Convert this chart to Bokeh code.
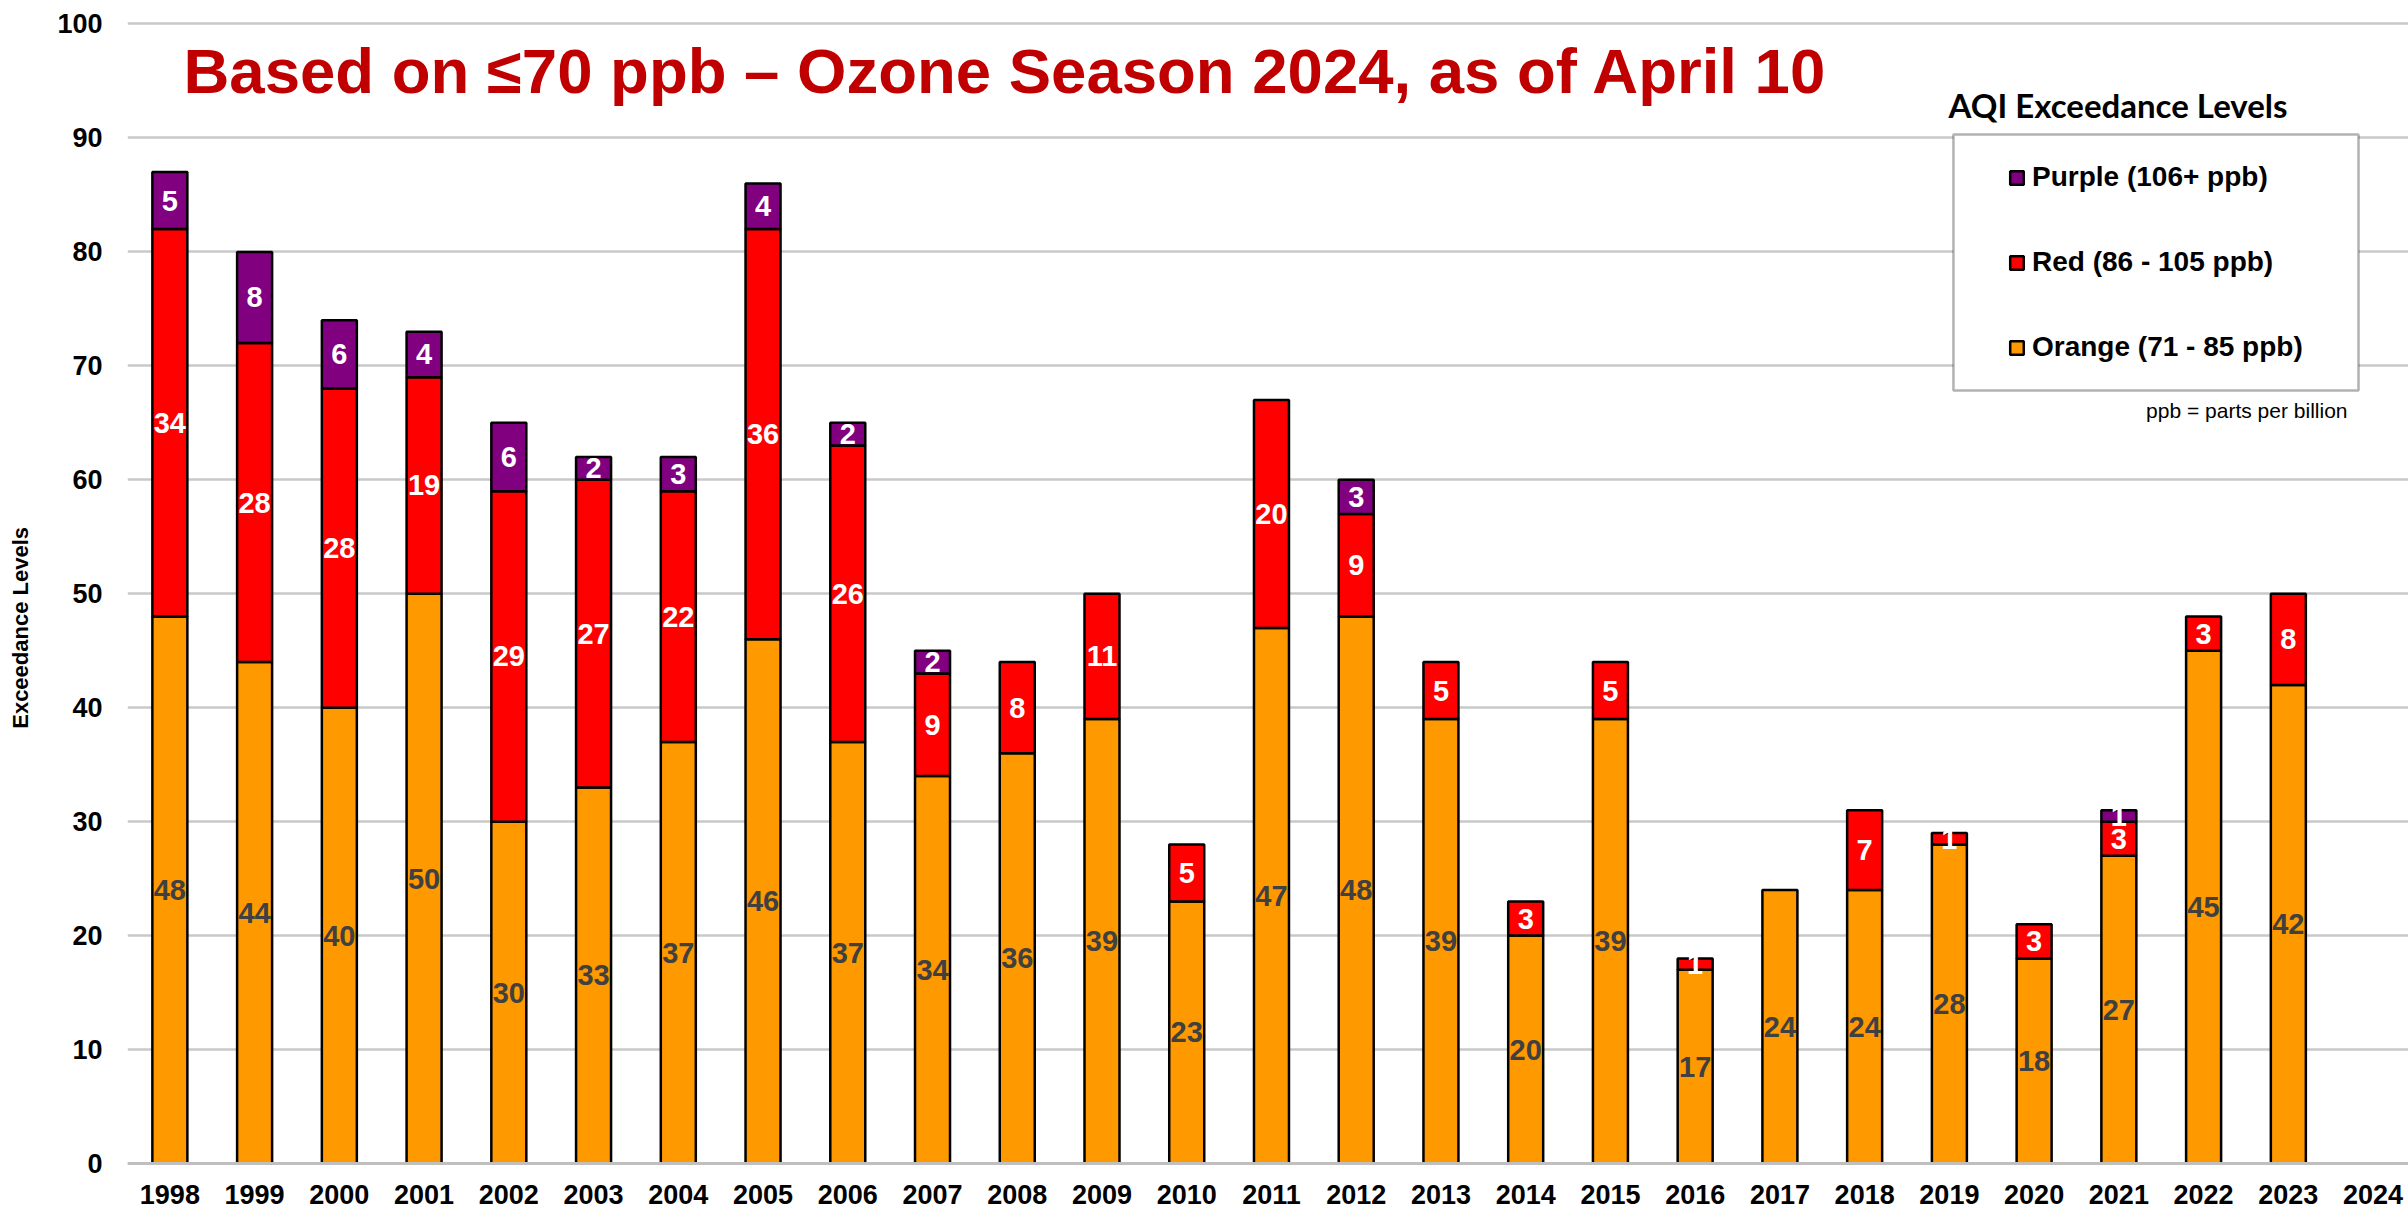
import math
from bokeh.plotting import figure
from bokeh.models import (ColumnDataSource, Range1d, FixedTicker, Label, Legend,
                          LegendItem, BoxAnnotation)
from bokeh.embed import file_html
from bokeh.resources import INLINE
from bokeh.core.properties import value

# ---------------- data ----------------
years = ["1998", "1999", "2000", "2001", "2002", "2003", "2004", "2005", "2006",
         "2007", "2008", "2009", "2010", "2011", "2012", "2013", "2014", "2015",
         "2016", "2017", "2018", "2019", "2020", "2021", "2022", "2023", "2024"]
orange = [48, 44, 40, 50, 30, 33, 37, 46, 37, 34, 36, 39, 23, 47, 48, 39, 20, 39,
          17, 24, 24, 28, 18, 27, 45, 42, 0]
red = [34, 28, 28, 19, 29, 27, 22, 36, 26, 9, 8, 11, 5, 20, 9, 5, 3, 5,
       1, 0, 7, 1, 3, 3, 3, 8, 0]
purple = [5, 8, 6, 4, 6, 2, 3, 4, 2, 2, 0, 0, 0, 0, 3, 0, 0, 0,
          0, 0, 0, 0, 0, 1, 0, 0, 0]
y_ticks = [0, 10, 20, 30, 40, 50, 60, 70, 80, 90, 100]

series_names = ["Orange (71 - 85 ppb)", "Red (86 - 105 ppb)", "Purple (106+ ppb)"]
series_vals = [orange, red, purple]
fill_colors = ["#FF9900", "#FF0000", "#800080"]
label_colors = ["#404040", "white", "white"]

FONT = value("Liberation Sans")

W, H = 2408, 1212
p = figure(width=W, height=H, output_backend="svg", toolbar_location=None,
           x_range=Range1d(-0.5, 26.418), y_range=Range1d(-4.30, 102.06),
           min_border_left=127, min_border_right=0, min_border_top=0,
           min_border_bottom=0)
p.outline_line_color = None
p.background_fill_color = "white"
p.border_fill_color = "white"

# ---------------- bars ----------------
xs = list(range(len(years)))
bottoms = [0] * len(years)
renderers = {}
lab_x, lab_y, lab_t, lab_c = [], [], [], []
for name, vals, fc, lc in zip(series_names, series_vals, fill_colors, label_colors):
    bx, bb, bt = [], [], []
    for i, v in enumerate(vals):
        if v > 0:
            bx.append(xs[i])
            bb.append(bottoms[i])
            bt.append(bottoms[i] + v)
            lab_x.append(xs[i])
            lab_y.append(bottoms[i] + v / 2)
            lab_t.append(str(v))
            lab_c.append(lc)
        bottoms[i] += v
    src = ColumnDataSource(dict(x=bx, bottom=bb, top=bt))
    r = p.vbar(x="x", bottom="bottom", top="top", width=0.413, source=src,
               fill_color=fc, line_color="black", line_width=2.5)
    renderers[name] = r

lab_src = ColumnDataSource(dict(x=lab_x, y=lab_y, t=lab_t, c=lab_c))
p.text(x="x", y="y", text="t", text_color="c", source=lab_src,
       text_align="center", text_baseline="middle", text_font=FONT,
       text_font_style="bold", text_font_size="29px")

# ---------------- axes / grid ----------------
p.xaxis.fixed_location = 0
p.xaxis.ticker = FixedTicker(ticks=xs)
p.xaxis.major_label_overrides = {i: y for i, y in zip(xs, years)}
p.xaxis.major_label_text_font = "Liberation Sans"
p.xaxis.major_label_text_font_style = "bold"
p.xaxis.major_label_text_font_size = "27px"
p.xaxis.major_label_text_color = "black"
p.xaxis.major_label_standoff = 21
p.xaxis.major_tick_line_color = None
p.xaxis.minor_tick_line_color = None
p.xaxis.major_tick_in = 0
p.xaxis.major_tick_out = 0
p.xaxis.axis_line_color = "#BFBFBF"
p.xaxis.axis_line_width = 3

p.yaxis.ticker = FixedTicker(ticks=y_ticks)
p.yaxis.major_label_text_font = "Liberation Sans"
p.yaxis.major_label_text_font_style = "bold"
p.yaxis.major_label_text_font_size = "27px"
p.yaxis.major_label_text_color = "black"
p.yaxis.major_label_standoff = 25
p.yaxis.major_tick_line_color = None
p.yaxis.minor_tick_line_color = None
p.yaxis.major_tick_in = 0
p.yaxis.major_tick_out = 0
p.yaxis.axis_line_color = None
# axis title (trailing no-break spaces shift it below the frame centre as in the original)
p.yaxis.axis_label = "Exceedance Levels" + "\u00a0" * 7
p.yaxis.axis_label_text_font = "Liberation Sans"
p.yaxis.axis_label_text_font_style = "bold"
p.yaxis.axis_label_text_font_size = "22px"
p.yaxis.axis_label_text_color = "black"
p.yaxis.axis_label_standoff = 21

p.xgrid.grid_line_color = None
p.ygrid.ticker = FixedTicker(ticks=y_ticks)
p.ygrid.grid_line_color = "#C9C9C9"
p.ygrid.grid_line_width = 2.5

# chart title
p.add_layout(Label(x=0.161, y=95.9,
                   text="Based on \u226470 ppb \u2013 Ozone Season 2024, as of April 10",
                   text_align="left", text_baseline="alphabetic",
                   text_font="Liberation Sans", text_font_style="bold",
                   text_font_size="63.5px", text_color="#C00000"))

# ---------------- legend ----------------
p.add_layout(BoxAnnotation(left=21.048, right=25.828, top=90.30, bottom=67.84,
                           fill_color="white", fill_alpha=1.0,
                           line_color="black", line_width=2.5))
p.add_layout(Label(x=20.99, y=92.85, text="AQI Exceedance Levels",
                   text_align="left", text_baseline="alphabetic",
                   text_font="Lato", text_font_style="bold",
                   text_font_size="33px", text_color="black"))
p.add_layout(Label(x=25.698, y=66.12, text="ppb = parts per billion",
                   text_align="right", text_baseline="alphabetic",
                   text_font="Liberation Sans", text_font_size="21px",
                   text_color="black"))

legend = Legend(items=[LegendItem(label=n, renderers=[renderers[n]])
                       for n in reversed(series_names)],
                location=(1881, 849), orientation="vertical",
                border_line_color=None, background_fill_alpha=0,
                padding=0, margin=0, spacing=53,
                glyph_width=17, glyph_height=17, label_standoff=7,
                label_height=32,
                label_text_font="Liberation Sans", label_text_font_style="bold",
                label_text_font_size="28px", label_text_color="black")
p.add_layout(legend)

open("out.html", "w").write(file_html(p, INLINE))
